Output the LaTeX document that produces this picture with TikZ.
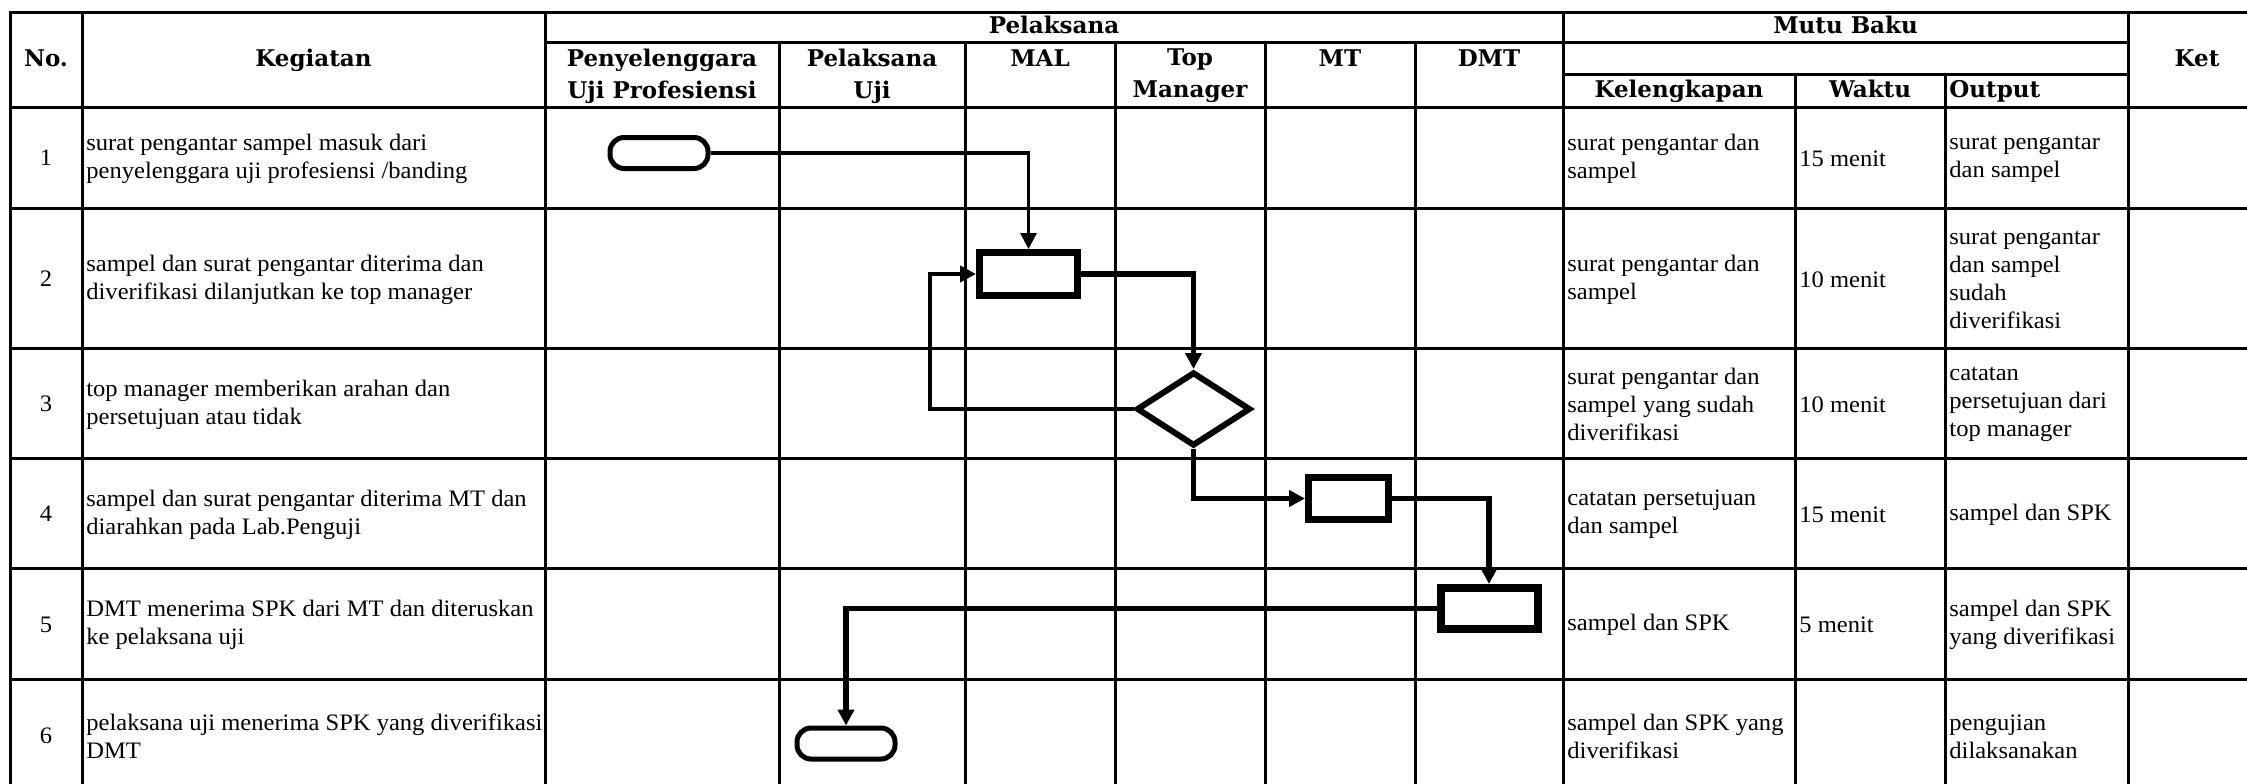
\documentclass[tikz,border=0pt]{standalone}
\usepackage{fontspec}
\setmainfont{Liberation Serif}[FakeStretch=1.04]
\newfontfamily\hdrfont{DejaVu Serif}
\usetikzlibrary{arrows.meta,shapes.geometric}
\begin{document}
\begin{tikzpicture}[x=0.5pt,y=-0.5pt,
  grid/.style={line width=1.5pt,line cap=rect},
  hd/.style={font=\hdrfont\bfseries\fontsize{11.5}{16}\selectfont,align=center,inner sep=0pt},
  hdb/.style={hd,anchor=base},
  bt/.style={font=\fontsize{11.8}{14}\selectfont,align=left,anchor=west,inner sep=0pt},
  num/.style={font=\fontsize{11.8}{14}\selectfont,inner sep=0pt},
  term/.style={draw,line width=2.5pt,rounded corners=7pt,minimum width=49pt,minimum height=15.5pt,inner sep=0pt},
  proc/.style={draw,line width=3.5pt,inner sep=0pt},
  dec/.style={diamond,draw,line width=3pt,minimum width=57pt,minimum height=37pt,inner sep=0pt},
  conn/.style={line width=2.6pt,-{Triangle[length=8pt,width=8pt]}},
]
\useasboundingbox (0,0) rectangle (2247,783);
% grid
\draw[grid] (10,12) -- (2247,12);
\draw[grid] (545,42) -- (2128,42);
\draw[grid] (1563,74) -- (2128,74);
\foreach \y in {107,208,348,458,568,679} \draw[grid] (10,\y) -- (2247,\y);
\foreach \x in {10,82,545,1563,2128} \draw[grid] (\x,12) -- (\x,783);
\foreach \x in {779,965,1115,1265,1415} \draw[grid] (\x,42) -- (\x,783);
\foreach \x in {1795,1945} \draw[grid] (\x,74) -- (\x,783);
% headers
\node[hdb] (hno) at (46,66) {No.};
\node[hdb] (hkeg) at (313.5,66) {Kegiatan};
\node[hdb] (hpel) at (1054,33) {Pelaksana};
\node[hd] (hpu) at (662,76) {Penyelenggara\\Uji Profesiensi};
\node[hd] (hpj) at (872,76) {Pelaksana\\Uji};
\node[hdb] (hmal) at (1040,66) {MAL};
\node[hd] (htop) at (1190,76) {Top\\Manager};
\node[hdb] (hmt) at (1340,66) {MT};
\node[hdb] (hdmt) at (1489,66) {DMT};
\node[hdb] (hmb) at (1845.5,33) {Mutu Baku};
\node[hdb] (hkel) at (1679,97) {Kelengkapan};
\node[hdb] (hwak) at (1870,97) {Waktu};
\node[hdb,anchor=base west] (hout) at (1949,97) {Output};
\node[hdb] (hket) at (2197,66) {Ket};
% numbers
\node[num] (n1) at (46,158) {1};
\node[num] (n2) at (46,279) {2};
\node[num] (n3) at (46,404) {3};
\node[num] (n4) at (46,514) {4};
\node[num] (n5) at (46,624.5) {5};
\node[num] (n6) at (46,736) {6};
% kegiatan
\node[bt] (k1) at (86,159) {surat pengantar sampel masuk dari\\penyelenggara uji profesiensi /banding};
\node[bt] (k2) at (86,279.5) {sampel dan surat pengantar diterima dan\\diverifikasi dilanjutkan ke top manager};
\node[bt] (k3) at (86,404.5) {top manager memberikan arahan dan\\persetujuan atau tidak};
\node[bt] (k4) at (86,514.5) {sampel dan surat pengantar diterima MT dan\\diarahkan pada Lab.Penguji};
\node[bt] (k5) at (86,625) {DMT menerima SPK dari MT dan diteruskan\\ke pelaksana uji};
\node[bt] (k6) at (86,736.5) {pelaksana uji menerima SPK yang diverifikasi\\DMT};
% kelengkapan
\node[bt] (l1) at (1567,159) {surat pengantar dan\\sampel};
\node[bt] (l2) at (1567,279.5) {surat pengantar dan\\sampel};
\node[bt] (l3) at (1567,404.5) {surat pengantar dan\\sampel yang sudah\\diverifikasi};
\node[bt] (l4) at (1567,514.5) {catatan persetujuan\\dan sampel};
\node[bt] (l5) at (1567,625) {sampel dan SPK};
\node[bt] (l6) at (1567,736.5) {sampel dan SPK yang\\diverifikasi};
% waktu
\node[bt] (w1) at (1799,159) {15 menit};
\node[bt] (w2) at (1799,279.5) {10 menit};
\node[bt] (w3) at (1799,404.5) {10 menit};
\node[bt] (w4) at (1799,514.5) {15 menit};
\node[bt] (w5) at (1799,625) {5 menit};
% output
\node[bt] (o1) at (1949,159) {surat pengantar\\dan sampel};
\node[bt] (o2) at (1949,279.5) {surat pengantar\\dan sampel\\sudah\\diverifikasi};
\node[bt] (o3) at (1949,404.5) {catatan\\persetujuan dari\\top manager};
\node[bt] (o4) at (1949,514.5) {sampel dan SPK};
\node[bt] (o5) at (1949,625) {sampel dan SPK\\yang diverifikasi};
\node[bt] (o6) at (1949,736.5) {pengujian\\dilaksanakan};
% flow shapes
\node[term] (t1) at (659,153) {};
\node[proc,minimum width=49pt,minimum height=21.5pt] (r1) at (1028.5,274) {};
\node[dec] (d1) at (1193.5,409) {};
\node[proc,minimum width=40pt,minimum height=21pt] (m1) at (1348.5,498.5) {};
\node[proc,line width=4pt,minimum width=48.5pt,minimum height=20.5pt] (dm) at (1489,608.5) {};
\node[term] (t2) at (846,743.5) {};
\coordinate (lp) at (930,340);
% connectors
\draw[conn,line width=1.6pt] (t1.east) -| (r1.north);
\draw[conn] (r1.east) -| (d1.north);
\draw[conn,line width=2pt] (d1.west) -| (lp) |- (r1.west);
\draw[conn] (d1.south) |- (m1.west);
\draw[conn] (m1.east) -| (dm.north);
\draw[conn] (dm.west) -| (t2.north);
\end{tikzpicture}
\end{document}
